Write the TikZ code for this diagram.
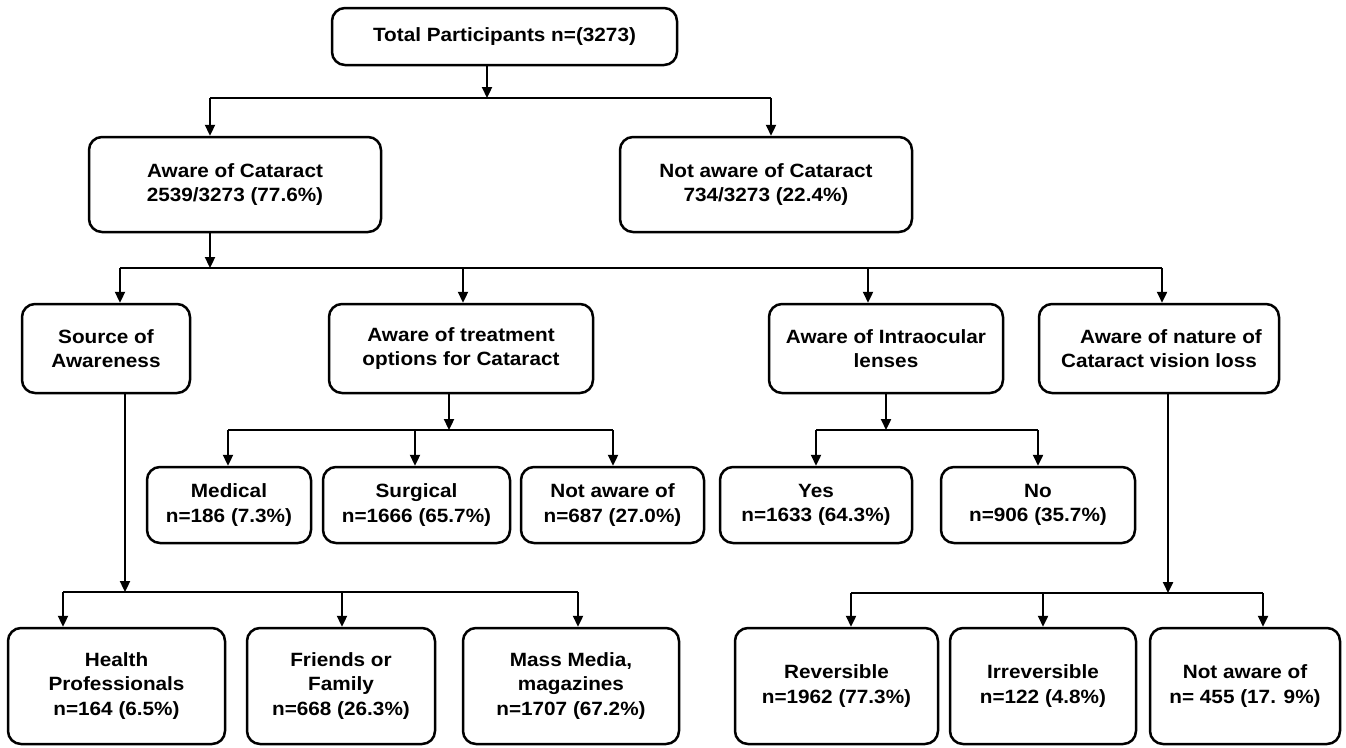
\documentclass[tikz,border=0pt]{standalone}
\usepackage{fontspec}
\setmainfont{Liberation Sans}[FakeStretch=1.08]
\usetikzlibrary{arrows.meta}
\begin{document}
\begin{tikzpicture}[x=1pt,y=-1pt,
  box/.style={draw, line width=2.5pt, rounded corners=13pt, inner sep=0pt, align=center,
    font=\bfseries\fontsize{19.2}{24.5}\selectfont},
  conn/.style={line width=2.3pt},
  arr/.style={line width=2.3pt, -{Triangle[length=11pt,width=10pt]}}]
\useasboundingbox (0,0) rectangle (1346,747);

% Row 0
\node[box, minimum width=345pt, minimum height=57pt] (tot) at (504.5,36.5) {Total Participants n=(3273)};
% Row 1
\node[box, minimum width=292pt, minimum height=95pt] (aw) at (235,184.5) {Aware of Cataract\\2539/3273 (77.6\%)};
\node[box, minimum width=292pt, minimum height=95pt] (naw) at (766,184.5) {Not aware of Cataract\\734/3273 (22.4\%)};
% Row 2
\node[box, minimum width=168pt, minimum height=89pt] (src) at (106,348.5) {Source of\\Awareness};
\node[box, minimum width=264pt, minimum height=89pt] (trt) at (461,348.5) {Aware of treatment\\options for Cataract};
\node[box, minimum width=234pt, minimum height=89pt] (iol) at (886,348.5) {Aware of Intraocular\\lenses};
\node[box, minimum width=240pt, minimum height=89pt] (nat) at (1159,348.5) {\hspace*{24pt}Aware of nature of\\Cataract vision loss};
% Row 3
\node[box, minimum width=164pt, minimum height=76pt] (med) at (229,505) {Medical\\n=186 (7.3\%)};
\node[box, minimum width=187pt, minimum height=76pt] (sur) at (416.5,505) {Surgical\\n=1666 (65.7\%)};
\node[box, minimum width=183pt, minimum height=76pt] (nao) at (612.5,505) {Not aware of\\n=687 (27.0\%)};
\node[box, minimum width=192pt, minimum height=76pt] (yes) at (816,505) {Yes\\n=1633 (64.3\%)};
\node[box, minimum width=194pt, minimum height=76pt] (no) at (1038,505) {No\\n=906 (35.7\%)};
% Row 4
\node[box, minimum width=217pt, minimum height=116pt] (hp) at (116.5,686) {Health\\Professionals\\n=164 (6.5\%)};
\node[box, minimum width=188pt, minimum height=116pt] (ff) at (341,686) {Friends or\\Family\\n=668 (26.3\%)};
\node[box, minimum width=216pt, minimum height=116pt] (mm) at (571,686) {Mass Media,\\magazines\\n=1707 (67.2\%)};
\node[box, minimum width=203pt, minimum height=116pt] (rev) at (836.5,686) {Reversible\\n=1962 (77.3\%)};
\node[box, minimum width=186pt, minimum height=116pt] (irr) at (1043,686) {Irreversible\\n=122 (4.8\%)};
\node[box, minimum width=190pt, minimum height=116pt] (na2) at (1245,686) {Not aware of\\n= 455 (17. 9\%)};

% Bus coordinates
\coordinate (j0) at (487,98);
\coordinate (b0L) at (210,98);
\coordinate (b0R) at (771,98);
\coordinate (j1) at (210,268);
\coordinate (b1L) at (120,268);
\coordinate (b1a) at (463,268);
\coordinate (b1b) at (868,268);
\coordinate (b1R) at (1162,268);
\coordinate (j2) at (449,430);
\coordinate (b2L) at (228,430);
\coordinate (b2a) at (415,430);
\coordinate (b2R) at (613,430);
\coordinate (j3) at (886,430);
\coordinate (b3L) at (816,430);
\coordinate (b3R) at (1038,430);
\coordinate (j4) at (125,592);
\coordinate (b4L) at (63,592);
\coordinate (b4a) at (342,592);
\coordinate (b4R) at (578,592);
\coordinate (j5) at (1168,593);
\coordinate (b5L) at (851,593);
\coordinate (b5a) at (1043,593);
\coordinate (b5R) at (1263,593);

% Level 0 -> 1
\draw[arr] (j0 |- tot.south) -- (j0);
\draw[conn] (b0L) -- (b0R);
\draw[arr] (b0L) -- (b0L |- aw.north);
\draw[arr] (b0R) -- (b0R |- naw.north);
% Level 1 -> 2
\draw[arr] (j1 |- aw.south) -- (j1);
\draw[conn] (b1L) -- (b1R);
\draw[arr] (b1L) -- (b1L |- src.north);
\draw[arr] (b1a) -- (b1a |- trt.north);
\draw[arr] (b1b) -- (b1b |- iol.north);
\draw[arr] (b1R) -- (b1R |- nat.north);
% Treatment
\draw[arr] (j2 |- trt.south) -- (j2);
\draw[conn] (b2L) -- (b2R);
\draw[arr] (b2L) -- (b2L |- med.north);
\draw[arr] (b2a) -- (b2a |- sur.north);
\draw[arr] (b2R) -- (b2R |- nao.north);
% Intraocular
\draw[arr] (j3 |- iol.south) -- (j3);
\draw[conn] (b3L) -- (b3R);
\draw[arr] (b3L) -- (b3L |- yes.north);
\draw[arr] (b3R) -- (b3R |- no.north);
% Source
\draw[arr] (j4 |- src.south) -- (j4);
\draw[conn] (b4L) -- (b4R);
\draw[arr] (b4L) -- (b4L |- hp.north);
\draw[arr] (b4a) -- (b4a |- ff.north);
\draw[arr] (b4R) -- (b4R |- mm.north);
% Nature
\draw[arr] (j5 |- nat.south) -- (j5);
\draw[conn] (b5L) -- (b5R);
\draw[arr] (b5L) -- (b5L |- rev.north);
\draw[arr] (b5a) -- (b5a |- irr.north);
\draw[arr] (b5R) -- (b5R |- na2.north);
\end{tikzpicture}
\end{document}
